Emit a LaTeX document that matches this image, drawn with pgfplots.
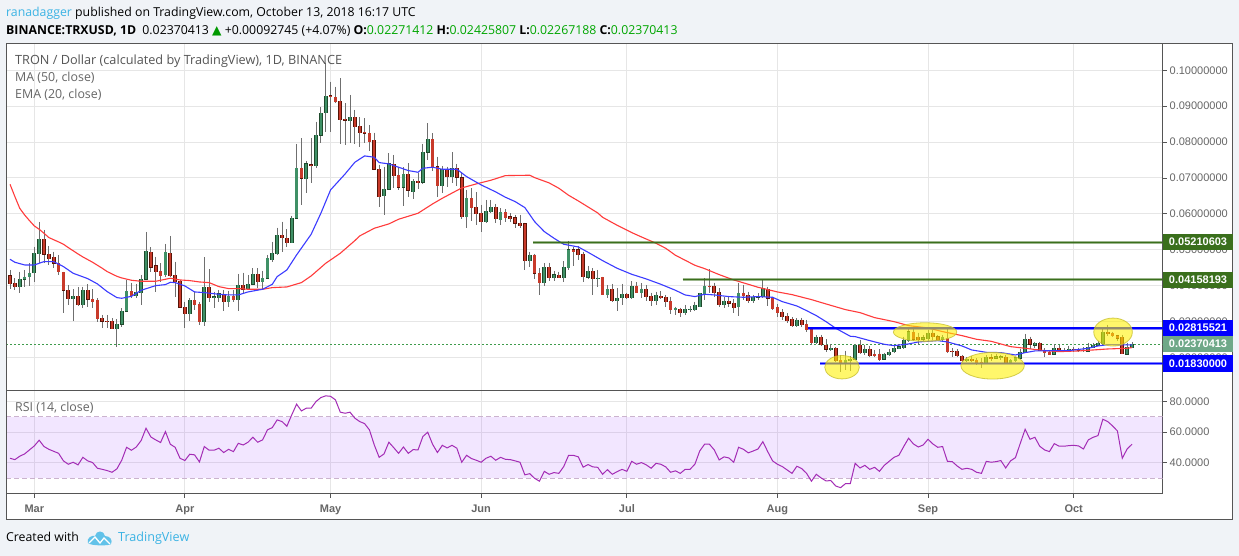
\documentclass[border=0pt]{standalone}
\usepackage{fontspec}
\setmainfont{Liberation Sans}
\newfontfamily\hdfont{Open Sans}
\newfontfamily\symfont{DejaVu Sans}
\usepackage{pgfplots}
\usepackage{pgfplotstable}
\pgfplotsset{compat=1.18}

\definecolor{pagebg}{HTML}{F0F3F7}
\definecolor{frame}{HTML}{555555}
\definecolor{gridc}{HTML}{E6E6E6}
\definecolor{txtgray}{HTML}{666666}
\definecolor{upfill}{HTML}{3F9066}
\definecolor{updark}{HTML}{1F4A2C}
\definecolor{dnfill}{HTML}{C83A2A}
\definecolor{dndark}{HTML}{571408}
\definecolor{wick}{HTML}{6F6F6F}
\definecolor{ma}{HTML}{FF3B3B}
\definecolor{ema}{HTML}{3B3BFF}
\definecolor{lvlgreen}{HTML}{3A6F1C}
\definecolor{lastp}{HTML}{6FA888}
\definecolor{rsiline}{HTML}{A32CB5}
\definecolor{rsiband}{HTML}{9A33FF}
\definecolor{tvblue}{HTML}{3BB3E4}

% d = days after 1 March 2018
\pgfplotstableread{
d o h l c
-3 0.03970 0.04389 0.03803 0.04175
-2 0.04175 0.04435 0.03970 0.04240
-1 0.04249 0.04621 0.03989 0.04342
0 0.04361 0.05086 0.04110 0.04900
1 0.04881 0.05773 0.04621 0.05290
8 0.03636 0.03896 0.03022 0.03700
10 0.03468 0.03970 0.03366 0.03868
17 0.02790 0.03060 0.02297 0.02920
18 0.02920 0.03366 0.02855 0.03283
19 0.03283 0.04156 0.03255 0.03840
21 0.03710 0.04045 0.03645 0.03812
22 0.03803 0.04296 0.03459 0.04175
23 0.04175 0.05495 0.04156 0.04955
27 0.04305 0.05160 0.04249 0.04928
32 0.03218 0.03645 0.03022 0.03589
35 0.02994 0.04788 0.02883 0.03952
37 0.03673 0.03831 0.03366 0.03692
38 0.03664 0.03877 0.03552 0.03775
40 0.03552 0.03859 0.03413 0.03700
42 0.03608 0.04324 0.03301 0.04007
44 0.03905 0.04296 0.03877 0.04035
45 0.04035 0.04481 0.04017 0.04314
47 0.04110 0.04416 0.03877 0.04203
48 0.04203 0.04853 0.04175 0.04760
49 0.04714 0.05225 0.04667 0.04900
50 0.04881 0.05615 0.04853 0.05402
53 0.05197 0.05941 0.05179 0.05876
54 0.05876 0.07948 0.05848 0.07270
56 0.06982 0.07474 0.06573 0.07391
58 0.07344 0.08571 0.07270 0.08190
59 0.08190 0.08971 0.07967 0.08803
60 0.08822 0.10216 0.08292 0.09277
65 0.08599 0.09314 0.07985 0.08692
72 0.06508 0.07316 0.05959 0.06684
73 0.06684 0.07688 0.06666 0.07391
76 0.06740 0.07298 0.06229 0.07102
78 0.06619 0.06963 0.06424 0.06907
80 0.06879 0.07948 0.06824 0.07716
81 0.07716 0.08524 0.07502 0.08078
84 0.06786 0.07335 0.06573 0.07242
86 0.07037 0.07716 0.06851 0.07270
89 0.05922 0.06666 0.05615 0.06433
93 0.05783 0.06387 0.05736 0.06071
94 0.06062 0.06387 0.06015 0.06182
96 0.05829 0.06154 0.05690 0.06043
102 0.04695 0.04946 0.04528 0.04853
105 0.04082 0.04621 0.03998 0.04509
107 0.04221 0.04407 0.04128 0.04296
109 0.04221 0.04686 0.04110 0.04509
110 0.04500 0.05244 0.04435 0.04993
114 0.04231 0.04547 0.04184 0.04398
116 0.04193 0.04435 0.03970 0.04212
118 0.03738 0.04017 0.03645 0.03896
120 0.03580 0.03933 0.03301 0.03654
121 0.03654 0.04045 0.03459 0.03757
123 0.03654 0.04119 0.03617 0.03989
125 0.03794 0.04063 0.03645 0.03905
128 0.03580 0.03831 0.03459 0.03738
132 0.03329 0.03413 0.03180 0.03366
134 0.03245 0.03459 0.03180 0.03338
135 0.03329 0.03431 0.03273 0.03348
136 0.03329 0.03552 0.03301 0.03459
137 0.03413 0.03803 0.03394 0.03784
138 0.03738 0.04203 0.03599 0.03989
142 0.03459 0.03673 0.03366 0.03570
145 0.03413 0.04082 0.03162 0.03784
148 0.03580 0.03738 0.03506 0.03673
149 0.03673 0.03784 0.03599 0.03710
150 0.03692 0.04175 0.03645 0.03914
157 0.02874 0.03087 0.02836 0.03041
161 0.02409 0.02623 0.02372 0.02558
164 0.02214 0.02372 0.02186 0.02251
167 0.01851 0.02186 0.01647 0.01926
168 0.01907 0.02037 0.01628 0.01954
169 0.01944 0.02372 0.01926 0.02344
171 0.02121 0.02344 0.02065 0.02232
175 0.01944 0.02130 0.01926 0.02093
176 0.02074 0.02223 0.02037 0.02149
177 0.02149 0.02316 0.02130 0.02260
178 0.02242 0.02372 0.02223 0.02297
179 0.02260 0.02576 0.02242 0.02483
180 0.02465 0.02809 0.02437 0.02716
183 0.02502 0.02623 0.02465 0.02548
184 0.02520 0.02762 0.02465 0.02678
187 0.02502 0.02623 0.02465 0.02558
192 0.01907 0.02000 0.01879 0.01954
196 0.01833 0.02065 0.01814 0.02000
198 0.01972 0.02084 0.01944 0.02019
199 0.01991 0.02065 0.01926 0.02019
201 0.01833 0.01944 0.01814 0.01926
202 0.01898 0.02019 0.01870 0.01991
203 0.01972 0.02223 0.01944 0.02149
204 0.02130 0.02651 0.02112 0.02511
206 0.02335 0.02437 0.02251 0.02390
210 0.02084 0.02362 0.02065 0.02251
212 0.02177 0.02260 0.02149 0.02204
213 0.02177 0.02316 0.02149 0.02223
217 0.02167 0.02409 0.02149 0.02279
218 0.02270 0.02409 0.02251 0.02344
219 0.02335 0.02465 0.02316 0.02390
220 0.02372 0.02818 0.02344 0.02706
225 0.02084 0.02409 0.02074 0.02279
226 0.02271 0.02426 0.02267 0.02370
}\upcandles

\pgfplotstableread{
d o h l c
-5 0.04268 0.04435 0.03896 0.04045
-4 0.04063 0.04203 0.03877 0.03970
2 0.05290 0.05550 0.04621 0.04872
3 0.04872 0.05104 0.04574 0.04751
4 0.04788 0.04946 0.04481 0.04621
5 0.04621 0.04853 0.04296 0.04389
6 0.04370 0.04389 0.03227 0.03868
7 0.03868 0.04017 0.03459 0.03636
9 0.03700 0.03952 0.03431 0.03468
11 0.03868 0.04035 0.03413 0.03617
12 0.03617 0.03896 0.03385 0.03552
13 0.03589 0.03645 0.02994 0.03078
14 0.03087 0.03180 0.02809 0.03004
15 0.03013 0.03180 0.02809 0.02994
16 0.03004 0.03087 0.02781 0.02790
20 0.03840 0.04082 0.03645 0.03719
24 0.04928 0.05067 0.04389 0.04509
25 0.04547 0.04807 0.03831 0.04389
26 0.04398 0.04621 0.04110 0.04277
28 0.04900 0.05383 0.04249 0.04268
29 0.04286 0.04667 0.03692 0.04110
30 0.04119 0.04156 0.03366 0.03394
31 0.03394 0.03552 0.02827 0.03218
33 0.03589 0.03831 0.03320 0.03468
34 0.03487 0.03552 0.02902 0.02994
36 0.03952 0.04454 0.03552 0.03664
39 0.03766 0.03877 0.03301 0.03552
41 0.03710 0.03877 0.03552 0.03608
43 0.04007 0.04361 0.03803 0.03896
46 0.04314 0.04481 0.03924 0.04110
51 0.05402 0.05783 0.04946 0.05337
52 0.05318 0.05569 0.05086 0.05197
55 0.07270 0.08106 0.06247 0.06991
57 0.07363 0.08106 0.06870 0.07344
61 0.09286 0.09686 0.08292 0.09267
62 0.09249 0.09547 0.09082 0.09128
63 0.09138 0.09779 0.07948 0.08627
64 0.08636 0.09082 0.07920 0.08608
66 0.08692 0.08896 0.07948 0.08431
67 0.08441 0.08692 0.07855 0.08264
68 0.08274 0.08664 0.07967 0.08246
69 0.08246 0.08469 0.07762 0.08013
70 0.08050 0.08264 0.07223 0.07242
71 0.07242 0.07363 0.06182 0.06480
74 0.07381 0.07641 0.06731 0.07065
75 0.07074 0.07316 0.06666 0.06740
77 0.07102 0.07409 0.06480 0.06656
79 0.06916 0.07130 0.06693 0.06870
82 0.08078 0.08246 0.07205 0.07316
83 0.07316 0.07595 0.06480 0.06786
85 0.07242 0.07316 0.06759 0.07037
87 0.07270 0.07391 0.06777 0.07019
88 0.07000 0.07130 0.05857 0.05922
90 0.06433 0.06712 0.05811 0.06173
91 0.06182 0.06600 0.05690 0.06006
92 0.06015 0.06247 0.05504 0.05783
95 0.06182 0.06275 0.05755 0.05866
97 0.06043 0.06127 0.05783 0.05894
98 0.05913 0.06015 0.05783 0.05857
99 0.05885 0.05969 0.05615 0.05736
100 0.05745 0.05969 0.05597 0.05671
101 0.05718 0.05755 0.04435 0.04695
103 0.04853 0.04881 0.04175 0.04342
104 0.04342 0.04481 0.03738 0.04082
106 0.04509 0.04640 0.04138 0.04221
108 0.04286 0.04389 0.04203 0.04221
111 0.04993 0.05086 0.04547 0.04946
112 0.04993 0.05104 0.04714 0.04862
113 0.04881 0.04946 0.04110 0.04249
115 0.04398 0.04481 0.03738 0.04193
117 0.04231 0.04249 0.03738 0.03747
119 0.03905 0.04045 0.03552 0.03580
122 0.03757 0.03803 0.03617 0.03654
124 0.03989 0.04091 0.03784 0.03803
126 0.03905 0.04017 0.03580 0.03692
127 0.03710 0.03803 0.03431 0.03580
129 0.03701 0.03840 0.03617 0.03664
130 0.03673 0.03738 0.03413 0.03552
131 0.03561 0.03692 0.03208 0.03329
133 0.03338 0.03385 0.03134 0.03245
139 0.03989 0.04454 0.03784 0.03970
140 0.03989 0.04082 0.03692 0.03803
141 0.03812 0.03924 0.03413 0.03459
143 0.03570 0.03673 0.03413 0.03506
144 0.03506 0.03617 0.03227 0.03385
146 0.03794 0.04017 0.03599 0.03710
147 0.03729 0.03831 0.03506 0.03580
151 0.03896 0.03970 0.03431 0.03645
152 0.03654 0.03692 0.03320 0.03357
153 0.03394 0.03487 0.03134 0.03245
154 0.03264 0.03338 0.03041 0.03125
155 0.03143 0.03227 0.02948 0.03013
156 0.03069 0.03115 0.02836 0.02874
158 0.03041 0.03106 0.02855 0.02902
159 0.02920 0.03041 0.02716 0.02762
160 0.02781 0.02809 0.02344 0.02409
162 0.02567 0.02623 0.02316 0.02344
163 0.02344 0.02502 0.02158 0.02223
165 0.02251 0.02279 0.01879 0.01898
166 0.01916 0.02065 0.01600 0.01851
170 0.02344 0.02483 0.02093 0.02130
172 0.02232 0.02316 0.02000 0.02046
173 0.02084 0.02204 0.02000 0.02046
174 0.02093 0.02223 0.01907 0.01926
181 0.02706 0.02781 0.02446 0.02502
182 0.02567 0.02688 0.02344 0.02493
185 0.02678 0.02762 0.02483 0.02576
186 0.02576 0.02623 0.02446 0.02483
188 0.02530 0.02809 0.02130 0.02158
189 0.02167 0.02251 0.02019 0.02149
190 0.02177 0.02223 0.02000 0.02046
191 0.02037 0.02065 0.01879 0.01907
193 0.01954 0.02037 0.01870 0.01907
194 0.01926 0.01972 0.01796 0.01851
195 0.01861 0.01972 0.01712 0.01833
197 0.01991 0.02093 0.01907 0.01963
200 0.02009 0.02065 0.01814 0.01833
205 0.02511 0.02576 0.02223 0.02362
207 0.02390 0.02437 0.02177 0.02195
208 0.02195 0.02251 0.02019 0.02130
209 0.02149 0.02204 0.02056 0.02074
211 0.02251 0.02344 0.02139 0.02167
214 0.02232 0.02297 0.02149 0.02204
215 0.02223 0.02270 0.02149 0.02195
216 0.02195 0.02279 0.02149 0.02177
221 0.02697 0.02902 0.02604 0.02651
222 0.02669 0.02716 0.02576 0.02604
223 0.02604 0.02623 0.02465 0.02530
224 0.02558 0.02623 0.02084 0.02102
}\downcandles

\pgfplotstableread{
d v
-5 0.06823
-4 0.06480
-3 0.06154
-2 0.05969
-1 0.05811
0 0.05662
1 0.05569
2 0.05457
3 0.05337
5 0.05216
6 0.05151
7 0.05058
9 0.04881
10 0.04797
12 0.04649
14 0.04481
15 0.04389
17 0.04258
18 0.04212
20 0.04147
22 0.04119
25 0.04119
27 0.04175
28 0.04203
30 0.04156
32 0.04138
34 0.04100
36 0.04082
38 0.03970
40 0.03915
42 0.03915
44 0.03896
47 0.03896
49 0.03942
52 0.03961
55 0.04082
57 0.04268
60 0.04621
63 0.04900
66 0.05253
67 0.05383
70 0.05597
73 0.05718
75 0.05848
79 0.06015
82 0.06275
84 0.06433
88 0.06721
91 0.06833
94 0.06935
97 0.07065
102 0.07075
103 0.07009
106 0.06861
108 0.06712
110 0.06517
112 0.06359
116 0.06024
117 0.05903
120 0.05680
123 0.05476
125 0.05355
128 0.05179
130 0.05039
132 0.04844
134 0.04705
136 0.04565
138 0.04472
141 0.04305
144 0.04156
147 0.04035
149 0.03952
153 0.03822
156 0.03747
160 0.03608
163 0.03487
167 0.03329
170 0.03245
173 0.03106
177 0.02994
180 0.02883
184 0.02818
187 0.02716
191 0.02604
194 0.02502
197 0.02446
201 0.02297
204 0.02251
208 0.02186
211 0.02158
215 0.02177
218 0.02204
221 0.02232
225 0.02251
226 0.02270
}\maline

\pgfplotstableread{
d v
-5 0.04732
-4 0.04649
-2 0.04574
0 0.04574
2 0.04667
4 0.04667
6 0.04528
8 0.04342
11 0.04193
13 0.04045
15 0.03831
17 0.03664
18 0.03645
20 0.03700
22 0.03868
25 0.03998
27 0.04026
28 0.04091
29 0.04082
31 0.03989
33 0.03822
35 0.03803
38 0.03757
40 0.03738
42 0.03738
44 0.03822
47 0.03896
49 0.04035
50 0.04249
52 0.04435
54 0.04853
57 0.05429
59 0.06015
61 0.06666
64 0.07112
66 0.07437
68 0.07614
70 0.07576
71 0.07428
73 0.07391
75 0.07298
77 0.07205
79 0.07158
80 0.07270
82 0.07298
84 0.07242
87 0.07242
89 0.07037
92 0.06805
95 0.06610
97 0.06461
99 0.06340
101 0.06173
103 0.05783
105 0.05504
107 0.05318
109 0.05151
112 0.05076
114 0.04928
117 0.04695
120 0.04481
123 0.04314
126 0.04184
129 0.04035
132 0.03868
134 0.03738
136 0.03692
138 0.03757
140 0.03738
143 0.03692
146 0.03673
149 0.03692
152 0.03673
154 0.03552
157 0.03431
159 0.03301
161 0.03162
163 0.02994
165 0.02809
168 0.02586
169 0.02576
172 0.02465
175 0.02362
177 0.02325
180 0.02372
182 0.02428
186 0.02465
188 0.02428
191 0.02316
193 0.02204
196 0.02139
199 0.02130
202 0.02065
204 0.02130
206 0.02177
210 0.02186
213 0.02186
217 0.02251
219 0.02316
221 0.02353
226 0.02344
}\emaline

\pgfplotstableread{
d v
-5 43.0
-4 42.1
-3 44.3
-2 45.8
0 51.0
1 54.7
2 50.6
3 48.8
5 46.2
6 41.3
7 39.1
8 40.4
9 38.7
10 43.6
11 41.3
12 40.2
13 36.5
14 35.8
15 35.0
16 33.9
17 36.1
18 41.7
19 50.1
20 48.2
21 50.3
22 54.5
23 62.5
24 56.8
25 54.9
26 53.2
27 60.3
28 52.1
29 50.1
30 43.0
31 41.5
32 45.6
33 45.2
34 40.6
35 50.6
36 48.2
37 48.2
38 49.5
39 46.7
40 48.8
41 47.3
42 52.7
43 51.6
44 53.4
45 56.6
46 53.4
47 54.9
48 61.4
49 62.9
50 67.9
51 66.8
52 63.8
53 71.1
54 78.1
55 73.7
56 75.5
57 75.5
58 79.8
59 82.4
60 83.5
61 83.2
62 80.9
63 72.9
64 72.2
65 72.9
66 69.0
67 66.8
68 65.5
69 61.4
70 51.6
71 43.6
72 45.8
73 53.4
74 49.9
75 46.2
76 50.3
77 46.2
78 48.6
79 48.4
80 57.1
81 59.9
82 52.1
83 46.7
84 51.4
85 49.7
86 51.4
87 49.5
88 40.4
89 44.9
90 42.8
91 41.7
92 40.4
93 43.0
94 44.3
95 41.7
96 43.6
97 42.3
98 42.1
99 41.3
100 40.4
101 32.2
102 33.0
103 30.0
104 28.1
105 34.5
106 32.6
107 33.7
108 33.2
109 37.6
110 44.9
111 44.9
112 43.9
113 37.2
114 38.9
115 37.4
116 37.1
117 32.6
118 35.6
119 32.6
120 34.3
121 35.8
122 34.5
123 41.0
124 39.1
125 40.2
126 38.7
127 36.5
128 39.7
129 39.1
130 37.4
131 33.9
132 34.8
133 33.2
134 35.8
135 35.8
136 39.1
137 47.7
138 52.1
139 52.1
140 48.4
141 41.9
142 43.9
143 43.2
144 40.4
145 50.1
146 48.8
147 46.5
148 47.7
149 49.0
150 53.8
151 47.3
152 41.3
153 39.1
154 37.6
155 35.4
156 33.2
157 37.8
158 36.3
159 33.2
160 28.1
161 32.6
162 30.2
163 28.3
164 28.5
165 25.0
166 23.9
167 26.5
168 26.5
169 39.7
170 36.7
171 38.4
172 35.8
173 37.1
174 34.5
175 38.4
176 41.0
177 43.6
178 44.9
179 50.6
180 56.0
181 52.3
182 50.3
183 51.6
184 55.3
185 52.3
186 50.1
187 50.6
188 41.0
189 40.8
190 38.0
191 35.8
192 36.5
193 35.8
194 33.9
195 33.2
196 41.0
197 40.4
198 40.8
199 41.5
200 36.7
201 41.3
202 43.4
203 52.7
204 61.8
205 55.3
206 56.6
207 50.8
208 48.4
209 47.3
210 52.5
211 50.8
212 50.8
213 51.2
214 51.4
215 51.0
216 49.0
217 54.9
218 56.6
219 57.7
220 68.3
221 66.8
222 64.0
223 60.7
224 43.0
225 49.0
226 52.1
}\rsiline

\pgfplotsset{
  pane/.style={
    scale only axis, clip=true,
    xmin=-5.765, xmax=232.3,
    axis line style={frame, line width=1pt},
    grid=major, major grid style={gridc, line width=1pt},
    tick style={frame, line width=0.8pt},
    major tick length=4pt, tick align=outside,
    xtick={0,31,61,92,122,153,184,214},
    yticklabel pos=right,
    xtick pos=bottom, ytick pos=right,
    yticklabel style={font=\fontsize{11}{13}\selectfont, text=txtgray, anchor=west, xshift=-0.5pt},
  },
  wicks/.style={draw=none, forget plot, error bars/.cd, y dir=minus, y explicit, error mark=none,
    error bar style={draw=wick, line width=0.75pt, solid}},
  body/.style={draw=none, forget plot, error bars/.cd, y dir=both, y explicit, error mark=none,
    error bar style={draw=#1, line width=3.7pt, solid}},
  inner/.style={draw=none, forget plot, error bars/.cd, y dir=minus, y explicit, error mark=none,
    error bar style={draw=#1, line width=2.3pt, solid}},
}

\begin{document}
\begin{tikzpicture}[x=1pt,y=1pt]
\useasboundingbox (0,0) rectangle (1239,556);
\fill[pagebg] (0,0) rectangle (1239,556);
\fill[white] (6.3,36.7) rectangle (1232.7,512.7);

\begin{axis}[pane, at={(6.3pt,165.7pt)}, anchor=south west, width=1156.3pt, height=347pt,
    ymin=0.0108, ymax=0.10753,
    ytick={0.02,0.03,0.04,0.05,0.06,0.07,0.08,0.09,0.10},
    yticklabels={0.02000000,0.03000000,0.04000000,0.05000000,0.06000000,0.07000000,0.08000000,0.09000000,0.10000000},
    xticklabels={},
  ]
  % last price
  \addplot[forget plot, color=lastp!70!green!80!black, line width=0.8pt, dash pattern=on 2pt off 2pt]
    coordinates {(-5.765,0.02370413)(232.3,0.02370413)};

  % wicks
  \addplot[wicks] table[x=d, y=h, y error minus expr=\thisrow{h}-\thisrow{l}] {\upcandles};
  \addplot[wicks] table[x=d, y=h, y error minus expr=\thisrow{h}-\thisrow{l}] {\downcandles};

  % candle bodies, dark edge then fill
  \addplot[body=updark] table[x=d, y=c, y error plus expr=0.00012, y error minus expr=\thisrow{c}-\thisrow{o}+0.00012] {\upcandles};
  \addplot[body=dndark] table[x=d, y=o, y error plus expr=0.00012, y error minus expr=\thisrow{o}-\thisrow{c}+0.00012] {\downcandles};
  \addplot[inner=upfill] table[x=d, y=c, y error minus expr=\thisrow{c}-\thisrow{o}] {\upcandles};
  \addplot[inner=dnfill] table[x=d, y=o, y error minus expr=\thisrow{o}-\thisrow{c}] {\downcandles};

  % moving averages
  \addplot[ma, line width=1.1pt] table[x=d, y=v] {\maline};
  \addplot[ema, line width=1.1pt] table[x=d, y=v] {\emaline};

  % drawn levels
  \addplot[lvlgreen, opacity=0.5, line width=3pt] coordinates {(102.7,0.05210603)(232.3,0.05210603)};
  \addplot[lvlgreen, line width=1.2pt] coordinates {(102.7,0.05210603)(232.3,0.05210603)};
  \addplot[lvlgreen, opacity=0.5, line width=3pt] coordinates {(133.5,0.04158193)(232.3,0.04158193)};
  \addplot[lvlgreen, line width=1.2pt] coordinates {(133.5,0.04158193)(232.3,0.04158193)};
  \addplot[blue, opacity=0.5, line width=3pt] coordinates {(159.3,0.02815521)(232.3,0.02815521)};
  \addplot[blue, line width=1.2pt] coordinates {(159.3,0.02815521)(232.3,0.02815521)};
  \addplot[blue, opacity=0.5, line width=3pt] coordinates {(161.8,0.01830000)(232.3,0.01830000)};
  \addplot[blue, line width=1.2pt] coordinates {(161.8,0.01830000)(232.3,0.01830000)};

  % highlighted zones
  \path[fill=yellow, fill opacity=0.58, draw=yellow!75!black, draw opacity=0.8, line width=0.8pt]
    (axis cs:166.3,0.01723) ellipse [x radius=17.3pt, y radius=11.7pt]
    (axis cs:183.4,0.02703) ellipse [x radius=31.7pt, y radius=9.3pt]
    (axis cs:197.3,0.01764) ellipse [x radius=31.7pt, y radius=13.3pt]
    (axis cs:222.1,0.02703) ellipse [x radius=19.3pt, y radius=14pt];

  \coordinate (lvlA) at (axis cs:232.3,0.05210603);
  \coordinate (lvlB) at (axis cs:232.3,0.04158193);
  \coordinate (lvlC) at (axis cs:232.3,0.02815521);
  \coordinate (lvlD) at (axis cs:232.3,0.02370413);
  \coordinate (lvlE) at (axis cs:232.3,0.01830000);
\end{axis}

\begin{axis}[pane, at={(6.3pt,62pt)}, anchor=south west, width=1156.3pt, height=103.7pt,
    ymin=19.8, ymax=87.1,
    ytick={40,60,80},
    yticklabels={40.0000,60.0000,80.0000},
    xticklabels={Mar,Apr,May,Jun,Jul,Aug,Sep,Oct},
    xticklabel style={font=\bfseries\fontsize{11}{13}\selectfont, text=txtgray, yshift=-3pt},
  ]
  \addplot[draw=none, fill=rsiband, fill opacity=0.12, forget plot]
    coordinates {(-5.765,30)(232.3,30)(232.3,70)(-5.765,70)} --cycle;
  \addplot[forget plot, color=frame!50!rsiline!40!white, line width=0.9pt, dash pattern=on 5pt off 3pt]
    coordinates {(-5.765,70)(232.3,70)};
  \addplot[forget plot, color=frame!50!rsiline!40!white, line width=0.9pt, dash pattern=on 5pt off 3pt]
    coordinates {(-5.765,30)(232.3,30)};
  \addplot[rsiline, line width=1pt] table[x=d, y=v] {\rsiline};
\end{axis}

% outer frame of the snapshot
\draw[frame, line width=1pt] (6.3,36.7) rectangle (1232.7,512.7);

% price labels on the scale
\foreach \c/\fc/\tx in {lvlA/lvlgreen/0.05210603, lvlB/lvlgreen/0.04158193, lvlC/blue/0.02815521, lvlD/lastp/0.02370413, lvlE/blue/0.01830000}{
  \path (\c) ++(0.5,0) node[anchor=west, fill=\fc, text=white, inner xsep=0pt, inner ysep=0pt,
    minimum width=69.5pt, minimum height=16.6pt, align=center,
    font=\bfseries\fontsize{11}{13}\selectfont] {\tx};
}

% header
\node[anchor=base west, inner sep=0pt, font=\hdfont\fontsize{12.3}{15}\selectfont] at (6,539.5)
  {\textcolor{tvblue}{ranadagger} published on TradingView.com, October 13, 2018 16:17 UTC};
\node[anchor=base west, inner sep=0pt, font=\hdfont\fontsize{12.3}{15}\selectfont] at (6,521.5)
  {\textbf{BINANCE:TRXUSD, 1D}\enspace 0.02370413 {\symfont\textcolor{green!60!black}{▲}} +0.00092745 (+4.07\%)
   \textbf{O:}\textcolor{green!65!black}{0.02271412} \textbf{H:}\textcolor{green!65!black}{0.02425807}
   \textbf{L:}\textcolor{green!65!black}{0.02267188} \textbf{C:}\textcolor{green!65!black}{0.02370413}};

% pane captions
\node[anchor=base west, inner sep=0pt, text=frame, font=\hdfont\fontsize{12.7}{15}\selectfont] at (15,491.5)
  {TRON / Dollar (calculated by TradingView), 1D, BINANCE};
\node[anchor=base west, inner sep=0pt, text=txtgray, font=\hdfont\fontsize{12.4}{15}\selectfont] at (15,474.5) {MA (50, close)};
\node[anchor=base west, inner sep=0pt, text=txtgray, font=\hdfont\fontsize{12.4}{15}\selectfont] at (15,457.5) {EMA (20, close)};
\node[anchor=base west, inner sep=0pt, text=txtgray, font=\hdfont\fontsize{12.4}{15}\selectfont] at (15,144) {RSI (14, close)};

% footer
\node[anchor=base west, inner sep=0pt, font=\hdfont\fontsize{12.3}{15}\selectfont] at (6,14) {Created with};
\fill[tvblue!80!white] (88,13) .. controls (86,18) and (92,21) .. (95,20)
   .. controls (96,26) and (104,26) .. (105,20) .. controls (110,20) and (113,16) .. (111,12)
   .. controls (110,10) and (90,10) .. (88,13) -- cycle;
\draw[white, line width=1.3pt] (89,13) -- (95,19) -- (100,13) -- (104,18) -- (110,12);
\node[anchor=base west, inner sep=0pt, text=tvblue, font=\hdfont\fontsize{12.6}{15}\selectfont] at (118,14) {TradingView};
\end{tikzpicture}
\end{document}
